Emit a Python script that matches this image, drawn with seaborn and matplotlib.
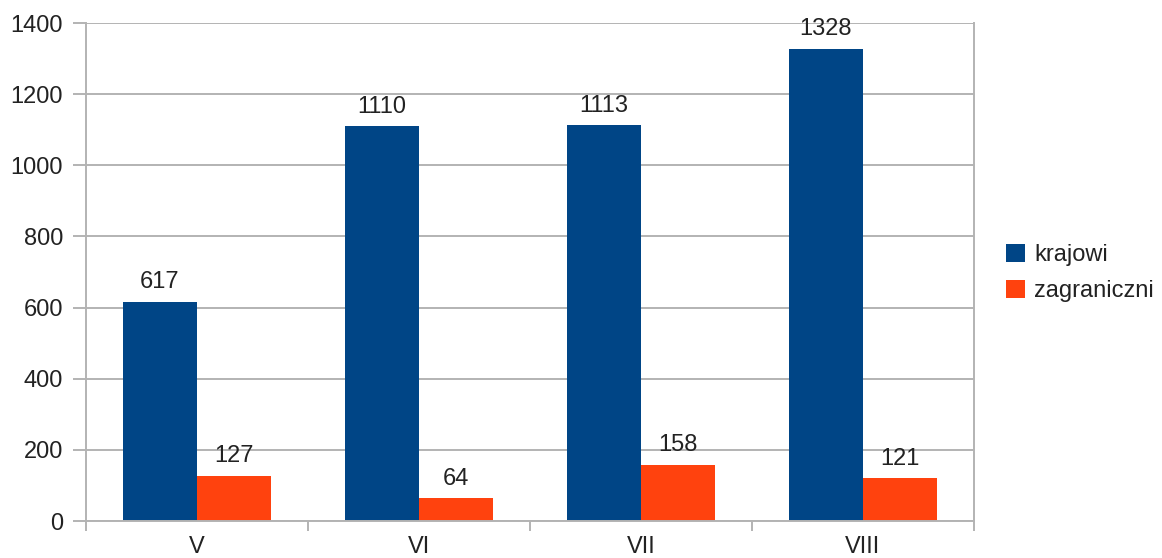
import pandas as pd
import seaborn as sns
import matplotlib.pyplot as plt
from matplotlib.ticker import FixedLocator

months = ['V', 'VI', 'VII', 'VIII']
krajowi = [617, 1110, 1113, 1328]
zagraniczni = [127, 64, 158, 121]
series = ['krajowi', 'zagraniczni']
colors = ['#004586', '#ff420e']

df = pd.DataFrame({
    'month': months * 2,
    'value': krajowi + zagraniczni,
    'series': [series[0]] * len(months) + [series[1]] * len(months),
})

sns.set_style('white')
plt.rcParams['font.family'] = ['Liberation Sans', 'DejaVu Sans']
grid = '#b3b3b3'
fs = 17

fig = plt.figure(figsize=(11.62, 5.58), dpi=100)
ax = fig.add_axes([86 / 1162, 1 - 521 / 558, 888 / 1162, 498 / 558])

sns.barplot(data=df, x='month', y='value', hue='series', order=months,
            hue_order=series, palette=colors, width=0.667, saturation=1,
            gap=0, linewidth=0, ax=ax, legend=True)

for cont in ax.containers:
    ax.bar_label(cont, padding=6, fontsize=fs, color='#222222')

ax.set_ylim(0, 1400)
ax.set_xlim(-0.5, len(months) - 0.5)
ax.set_yticks(range(0, 1401, 200))
ax.yaxis.grid(True, color=grid, linewidth=1.4)
ax.set_axisbelow(True)
ax.set_xlabel('')
ax.set_ylabel('')

for s in ['left', 'bottom', 'right']:
    ax.spines[s].set_visible(True)
    ax.spines[s].set_color(grid)
    ax.spines[s].set_linewidth(1.4)
ax.spines['top'].set_visible(False)

ax.tick_params(axis='y', which='major', length=9.5, width=1.4, color=grid,
               pad=7, labelsize=fs, labelcolor='#222222', left=True)
ax.tick_params(axis='x', which='major', length=0, pad=11, labelsize=fs,
               labelcolor='#222222')
ax.xaxis.set_minor_locator(FixedLocator([i - 0.5 for i in range(len(months) + 1)]))
ax.tick_params(axis='x', which='minor', length=7.5, width=1.4, color=grid,
               bottom=True)

handles, labels = ax.get_legend_handles_labels()
ax.legend(handles, labels, loc='center left', bbox_to_anchor=(1006 / 1162, 285 / 558),
          bbox_transform=fig.transFigure, frameon=False, fontsize=fs,
          handlelength=0.8, handleheight=0.8, handletextpad=0.4,
          labelspacing=0.6, labelcolor='#222222', borderpad=0, borderaxespad=0)

fig.savefig('out.png', dpi=100)
